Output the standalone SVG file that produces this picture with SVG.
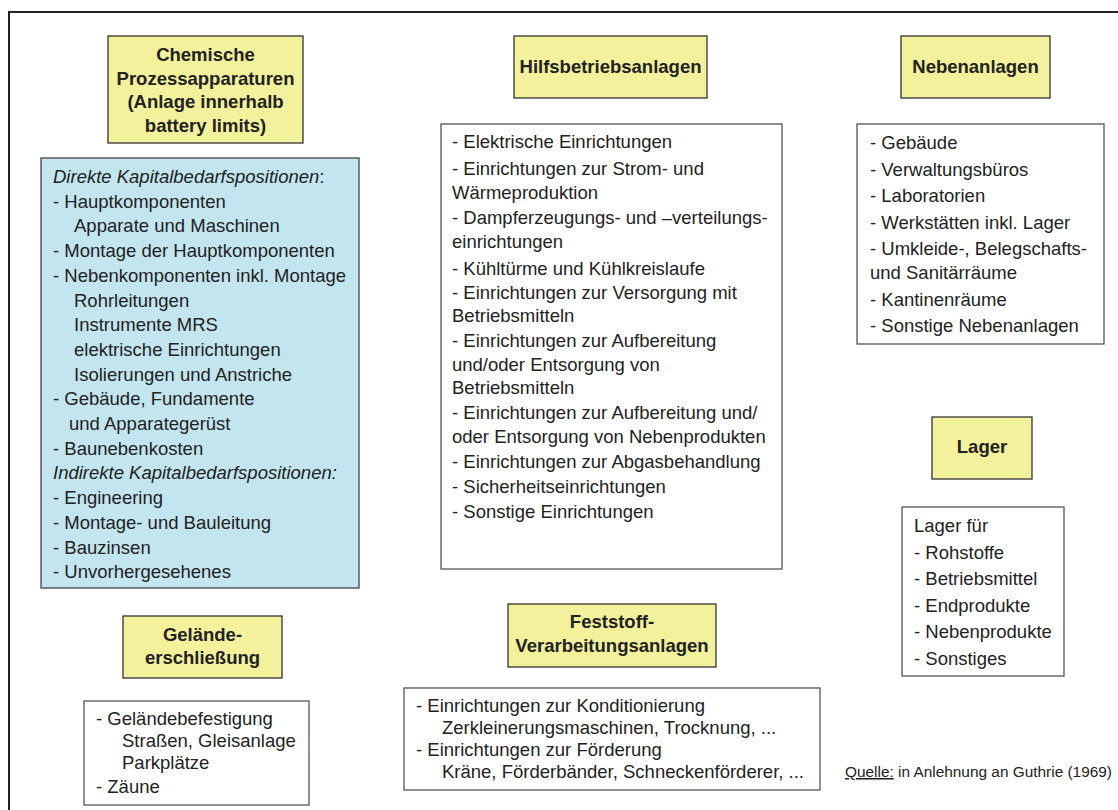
<svg xmlns="http://www.w3.org/2000/svg" width="1118" height="810" viewBox="0 0 1118 810">
<style>
text{font-family:"Liberation Sans",Arial,sans-serif;fill:#222;}
.t{font-size:18.5px;font-weight:bold;text-anchor:middle;}
.l{font-size:18.5px;}
.i{font-style:italic;}
.y{fill:#f3f19b;stroke:#333;stroke-width:1.3;}
.b{fill:#c2e5ef;stroke:#444;stroke-width:1.3;}
.w{fill:#fff;stroke:#555;stroke-width:1.3;}
</style>
<rect width="1118" height="810" fill="#fff"/>
<path d="M9,810 V12 H1118" fill="none" stroke="#222" stroke-width="2"/>

<g id="chem-title">
<rect class="y" x="108" y="36" width="195" height="107"/>
<text class="t" x="205.5" y="61">Chemische</text>
<text class="t" x="205.5" y="84.5">Prozessapparaturen</text>
<text class="t" x="205.5" y="108">(Anlage innerhalb</text>
<text class="t" x="205.5" y="131.5">battery limits)</text>
</g>

<g id="chem-list">
<rect class="b" x="41" y="158" width="318" height="430"/>
<text class="l" x="53" y="183"><tspan class="i">Direkte Kapitalbedarfspositionen</tspan>:</text>
<text class="l" x="53" y="207.7">- Hauptkomponenten</text>
<text class="l" x="74" y="232.4">Apparate und Maschinen</text>
<text class="l" x="53" y="257.1">- Montage der Hauptkomponenten</text>
<text class="l" x="53" y="281.8">- Nebenkomponenten inkl. Montage</text>
<text class="l" x="74" y="306.5">Rohrleitungen</text>
<text class="l" x="74" y="331.2">Instrumente MRS</text>
<text class="l" x="74" y="355.9">elektrische Einrichtungen</text>
<text class="l" x="74" y="380.6">Isolierungen und Anstriche</text>
<text class="l" x="53" y="405.3">- Gebäude, Fundamente</text>
<text class="l" x="69" y="430">und Apparategerüst</text>
<text class="l" x="53" y="454.7">- Baunebenkosten</text>
<text class="l i" x="53" y="479.4">Indirekte Kapitalbedarfspositionen:</text>
<text class="l" x="53" y="504.1">- Engineering</text>
<text class="l" x="53" y="528.8">- Montage- und Bauleitung</text>
<text class="l" x="53" y="553.5">- Bauzinsen</text>
<text class="l" x="53" y="578.2">- Unvorhergesehenes</text>
</g>

<g id="hilfs-title">
<rect class="y" x="514" y="36" width="193" height="62"/>
<text class="t" x="610.5" y="73">Hilfsbetriebsanlagen</text>
</g>

<g id="hilfs-list">
<rect class="w" x="441" y="124" width="341" height="445"/>
<text class="l" x="452" y="148">- Elektrische Einrichtungen</text>
<text class="l" x="452" y="175">- Einrichtungen zur Strom- und</text>
<text class="l" x="452" y="198.5">Wärmeproduktion</text>
<text class="l" x="452" y="224">- Dampferzeugungs- und –verteilungs-</text>
<text class="l" x="452" y="248">einrichtungen</text>
<text class="l" x="452" y="274.5">- Kühltürme und Kühlkreislaufe</text>
<text class="l" x="452" y="298.5">- Einrichtungen zur Versorgung mit</text>
<text class="l" x="452" y="322">Betriebsmitteln</text>
<text class="l" x="452" y="347">- Einrichtungen zur Aufbereitung</text>
<text class="l" x="452" y="370.5">und/oder Entsorgung von</text>
<text class="l" x="452" y="394">Betriebsmitteln</text>
<text class="l" x="452" y="419">- Einrichtungen zur Aufbereitung und/</text>
<text class="l" x="452" y="443">oder Entsorgung von Nebenprodukten</text>
<text class="l" x="452" y="468">- Einrichtungen zur Abgasbehandlung</text>
<text class="l" x="452" y="493">- Sicherheitseinrichtungen</text>
<text class="l" x="452" y="517.5">- Sonstige Einrichtungen</text>
</g>

<g id="neben-title">
<rect class="y" x="901" y="36" width="149" height="62"/>
<text class="t" x="975.5" y="73">Nebenanlagen</text>
</g>

<g id="neben-list">
<rect class="w" x="857" y="124" width="247" height="220"/>
<text class="l" x="870" y="149">- Gebäude</text>
<text class="l" x="870" y="175.5">- Verwaltungsbüros</text>
<text class="l" x="870" y="202">- Laboratorien</text>
<text class="l" x="870" y="228.5">- Werkstätten inkl. Lager</text>
<text class="l" x="870" y="255">- Umkleide-, Belegschafts-</text>
<text class="l" x="870" y="279">und Sanitärräume</text>
<text class="l" x="870" y="305.5">- Kantinenräume</text>
<text class="l" x="870" y="332">- Sonstige Nebenanlagen</text>
</g>

<g id="lager-title">
<rect class="y" x="932" y="417" width="100" height="62"/>
<text class="t" x="982" y="453">Lager</text>
</g>

<g id="lager-list">
<rect class="w" x="902" y="507" width="162" height="169"/>
<text class="l" x="914" y="532">Lager für</text>
<text class="l" x="914" y="558.5">- Rohstoffe</text>
<text class="l" x="914" y="585">- Betriebsmittel</text>
<text class="l" x="914" y="611.5">- Endprodukte</text>
<text class="l" x="914" y="638">- Nebenprodukte</text>
<text class="l" x="914" y="664.5">- Sonstiges</text>
</g>

<g id="gelaende-title">
<rect class="y" x="123" y="616" width="159" height="62"/>
<text class="t" x="202.5" y="641">Gelände-</text>
<text class="t" x="202.5" y="664">erschließung</text>
</g>

<g id="gelaende-list">
<rect class="w" x="84" y="701" width="225" height="104"/>
<text class="l" x="96" y="725">- Geländebefestigung</text>
<text class="l" x="122" y="747">Straßen, Gleisanlage</text>
<text class="l" x="122" y="768.5">Parkplätze</text>
<text class="l" x="96" y="793">- Zäune</text>
</g>

<g id="feststoff-title">
<rect class="y" x="508" y="604" width="208" height="63"/>
<text class="t" x="612" y="628">Feststoff-</text>
<text class="t" x="612" y="652">Verarbeitungsanlagen</text>
</g>

<g id="feststoff-list">
<rect class="w" x="404" y="688" width="416" height="102"/>
<text class="l" x="416" y="712">- Einrichtungen zur Konditionierung</text>
<text class="l" x="442" y="734">Zerkleinerungsmaschinen, Trocknung, ...</text>
<text class="l" x="416" y="756">- Einrichtungen zur Förderung</text>
<text class="l" x="442" y="778">Kräne, Förderbänder, Schneckenförderer, ...</text>
</g>

<g id="source">
<text x="845" y="777" style="font-size:15.4px"><tspan text-decoration="underline">Quelle:</tspan> in Anlehnung an Guthrie (1969)</text>
</g>
</svg>
